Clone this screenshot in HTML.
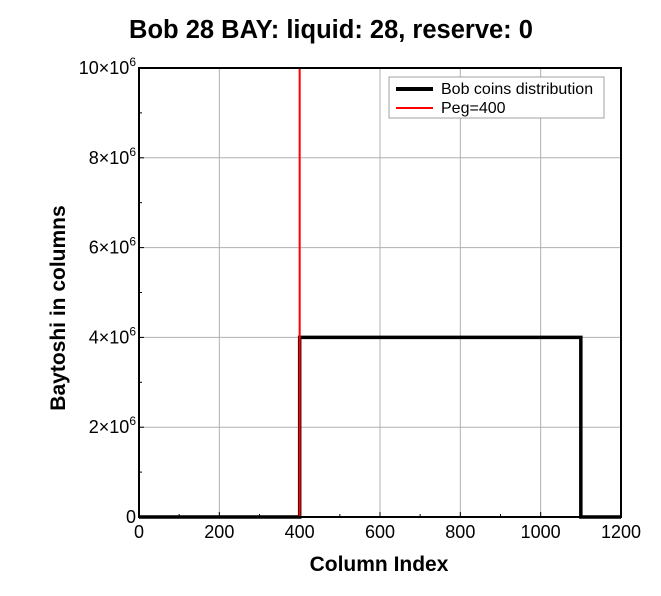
<!DOCTYPE html>
<html><head><meta charset="utf-8"><style>
body{margin:0;background:#fff;}
text{font-family:"Liberation Sans",Arial,sans-serif;}
</style></head><body>
<svg id="c" width="661" height="591" xmlns="http://www.w3.org/2000/svg"></svg>
<script>
const xTicks=[0,200,400,600,800,1000,1200];
const xTickLabels=["0","200","400","600","800","1000","1200"];
const yTicks=[0,2e6,4e6,6e6,8e6,10e6];
const yTickMant=["0","2","4","6","8","10"];
const stepX=[0,400,400,1100,1100,1200];
const stepY=[0,0,4e6,4e6,0,0];
const peg=400;
const L=139,R=621,T=68,B=517;
const sx=v=>L+(v-0)/1200*(R-L);
const sy=v=>B-(v/10e6)*(B-T);
const svg=document.getElementById('c');
const NS="http://www.w3.org/2000/svg";
function mk(tag,attrs,parent){const e=document.createElementNS(NS,tag);for(const k in attrs)e.setAttribute(k,attrs[k]);(parent||svg).appendChild(e);return e;}
let e;
e=mk('text',{x:331,y:38,'text-anchor':'middle','font-size':25.5,'font-weight':'bold'});e.textContent='Bob 28 BAY: liquid: 28, reserve: 0';


xTicks.forEach(v=>{e=mk('line',{x1:sx(v),x2:sx(v),y1:T,y2:B,stroke:'#b0b0b0','stroke-width':1});

});
yTicks.forEach(v=>{e=mk('line',{x1:L,x2:R,y1:sy(v),y2:sy(v),stroke:'#b0b0b0','stroke-width':1});

});
for(let v=0;v<=1200;v+=100){const big=v%200==0;e=mk('line',{x1:sx(v),x2:sx(v),y1:B,y2:B-(big?5:3),stroke:'#000'});

}
for(let v=0;v<=10e6;v+=1e6){const big=v%2e6==0;e=mk('line',{x1:L,x2:L+(big?5:3),y1:sy(v),y2:sy(v),stroke:'#000'});

}
xTicks.forEach((v,i)=>{e=mk('text',{x:sx(v),y:B+21,'text-anchor':'middle','font-size':18});e.textContent=xTickLabels[i];

});
yTicks.forEach((v,i)=>{e=mk('text',{x:L-3,y:sy(v)+6,'text-anchor':'end','font-size':18});
if(v===0){e.textContent='0';}else{e.innerHTML=yTickMant[i]+'×10<tspan dy="-8" font-size="12">6</tspan>';}

});
e=mk('text',{x:379,y:571,'text-anchor':'middle','font-size':21,'font-weight':'bold'});e.textContent='Column Index';


e=mk('text',{x:65,y:308,'text-anchor':'middle','font-size':21,'font-weight':'bold',transform:'rotate(-90 65 308)'});e.textContent='Baytoshi in columns';


e=mk('polyline',{points:stepX.map((x,i)=>sx(x)+','+sy(stepY[i])).join(' '),fill:'none',stroke:'#000','stroke-width':3.5});


e=mk('line',{x1:sx(peg),x2:sx(peg),y1:T,y2:B,stroke:'#ff0000','stroke-width':2});


e=mk('rect',{x:L,y:T,width:R-L,height:B-T,fill:'none',stroke:'#000','stroke-width':2});


const lg=mk('g',{});


mk('rect',{x:389,y:77,width:215,height:41,fill:'#fff',stroke:'#a0a0a0'},lg);
mk('line',{x1:396,x2:433,y1:89,y2:89,stroke:'#000','stroke-width':4},lg);
e=mk('text',{x:441,y:94,'font-size':16},lg);e.textContent='Bob coins distribution';


mk('line',{x1:396,x2:433,y1:108,y2:108,stroke:'#ff0000','stroke-width':2},lg);
e=mk('text',{x:441,y:113,'font-size':16},lg);e.textContent='Peg=400';


</script>
</body></html>
